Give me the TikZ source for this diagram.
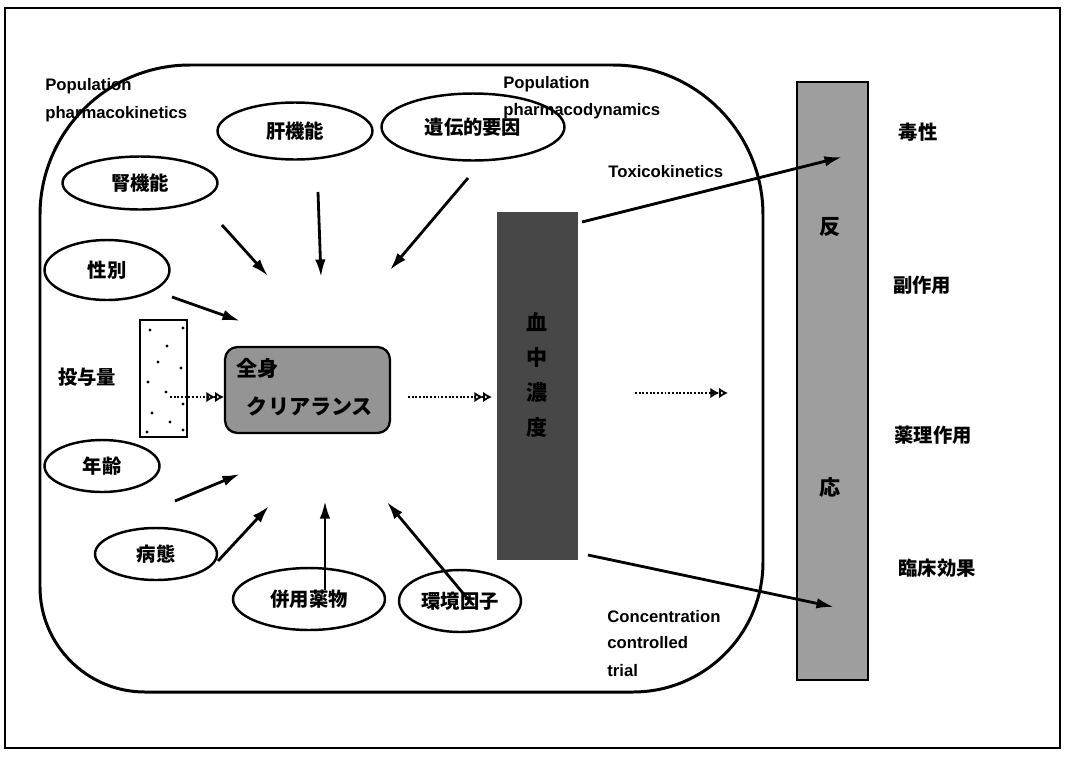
\documentclass[tikz,border=0pt]{standalone}
\usepackage{fontspec}
\setmainfont{Liberation Sans}
\newfontfamily\jp{Noto Sans CJK JP}
\usetikzlibrary{arrows.meta,shapes.geometric}
\begin{document}
\begin{tikzpicture}[x=0.02cm,y=-0.02cm,
  lbl/.style={font=\fontsize{9.5}{12}\selectfont\bfseries, anchor=base west, inner sep=0pt},
  jt/.style={font=\jp\bfseries\fontsize{11}{13}\selectfont, inner sep=0pt},
  factor/.style={draw, ellipse, line width=1.4pt, inner sep=0pt, font=\jp\bfseries\fontsize{11}{13}\selectfont},
  arr/.style={line width=1.6pt, -{Latex[length=10pt,width=6pt]}},
  darr/.style={line width=1.1pt, densely dotted, -{Latex[open,length=5pt,width=6pt]Latex[open,length=5pt,width=6pt]}},
]
\useasboundingbox (0,0) rectangle (1066,758);
% outer frame
\draw[line width=1.3pt] (5,8) rectangle (1060,748);
% population region
\draw[line width=1.7pt] (40,400) [rounded corners=3cm] -- (40,65) -- (400,65)
  [rounded corners=3cm] -- (763,65) -- (763,400)
  [rounded corners=2.6cm] -- (763,692) -- (400,692)
  [rounded corners=2.1cm] -- (40,692) -- cycle;

% texts
\node[lbl] (pk1) at (45,90) {Population};
\node[lbl] (pk2) at (45,118) {pharmacokinetics};
\node[lbl] (pd1) at (503,88) {Population};
\node[lbl] (pd2) at (503,115) {pharmacodynamics};
\node[lbl] (tk) at (608,177) {Toxicokinetics};
\node[lbl] (cc1) at (607,622) {Concentration};
\node[lbl] (cc2) at (607,648) {controlled};
\node[lbl] (cc3) at (607,676) {trial};

% factor ellipses
\node[factor, minimum width=3.1cm, minimum height=1.06cm] (ren) at (140,183) {腎機能};
\node[factor, minimum width=3.1cm, minimum height=1.14cm] (kan) at (295,131) {肝機能};
\node[factor, minimum width=3.66cm, minimum height=1.34cm] (iden) at (473,127) {遺伝的要因};
\node[factor, minimum width=2.5cm, minimum height=1.2cm] (sei) at (107,270) {性別};
\node[factor, minimum width=2.3cm, minimum height=1.04cm] (nen) at (102,466) {年齢};
\node[factor, minimum width=2.44cm, minimum height=1.04cm] (byo) at (156,554) {病態};
\node[factor, minimum width=3.04cm, minimum height=1.24cm] (hei) at (309,599) {併用薬物};
\node[factor, minimum width=2.44cm, minimum height=1.24cm] (kankyo) at (460,601) {環境因子};

% dose
\node[jt] (dose) at (87,377) {投与量};
\node[draw, line width=1.3pt, fill=white, minimum width=0.94cm, minimum height=2.34cm, inner sep=0pt] (dbox) at (163.5,378.5) {};
\foreach \p in {(150,330),(183,328),(167,346),(158,362),(181,368),(148,382),(166,392),(183,404),(152,413),(170,422),(147,432),(183,430)}
  \fill \p circle (1.6);

% clearance
\node[draw, line width=1.3pt, fill=black!42, rounded corners=0.25cm, minimum width=3.3cm, minimum height=1.72cm, inner sep=0pt] (cl) at (307.5,390) {};
\node[jt, font=\jp\bfseries\fontsize{12}{14}\selectfont, anchor=west] (cl1) at (236,368) {全身};
\node[jt, font=\jp\bfseries\fontsize{12}{14}\selectfont] (cl2) at (310,406) {クリアランス};

% blood concentration bar
\node[fill=black!72, minimum width=1.62cm, minimum height=6.96cm, inner sep=0pt] (conc) at (537.5,386) {};
\node[jt, font=\jp\bfseries\fontsize{12}{20}\selectfont, align=center, text=black] (conct) at (537,375) {血\\中\\濃\\度};

% response bar
\node[draw, line width=1.5pt, fill=black!38, minimum width=1.42cm, minimum height=11.96cm, inner sep=0pt] (resp) at (832.5,381) {};
\node[jt, font=\jp\bfseries\fontsize{12}{14}\selectfont] (r1) at (830,227) {反};
\node[jt, font=\jp\bfseries\fontsize{12}{14}\selectfont] (r2) at (830,487) {応};

% right labels
\node[jt] (tox) at (918,132) {毒性};
\node[jt] (side) at (922,285) {副作用};
\node[jt] (pharm) at (933,435) {薬理作用};
\node[jt] (clin) at (937,568) {臨床効果};

% coordinates for arrows
\coordinate (a1s) at (222,225); \coordinate (a1e) at (268,276);
\coordinate (a2s) at (318,192); \coordinate (a2e) at (321,277);
\coordinate (a3s) at (468,178); \coordinate (a3e) at (390,270);
\coordinate (a4s) at (172,297); \coordinate (a4e) at (240,321);
\coordinate (a5s) at (175,501); \coordinate (a5e) at (240,474);
\coordinate (a6s) at (218,561); \coordinate (a6e) at (269,506);
\coordinate (a7s) at (325,590); \coordinate (a7e) at (325,501);
\coordinate (a8s) at (472,604); \coordinate (a8e) at (387,502);
\coordinate (t1s) at (582,222); \coordinate (t1e) at (842,157);
\coordinate (t2s) at (588,555); \coordinate (t2e) at (834,607);
\coordinate (d1s) at (170,397); \coordinate (d1e) at (224,397);
\coordinate (d2s) at (408,397); \coordinate (d2e) at (492,397);
\coordinate (d3s) at (635,393); \coordinate (d3e) at (728,393);

\draw[arr] (a1s) -- (a1e);
\draw[arr] (a2s) -- (a2e);
\draw[arr] (a3s) -- (a3e);
\draw[arr] (a4s) -- (a4e);
\draw[arr] (a5s) -- (a5e);
\draw[arr] (a6s) -- (a6e);
\draw[arr] (a7s) -- (a7e);
\draw[arr] (a8s) -- (a8e);
\draw[arr] (t1s) -- (t1e);
\draw[arr] (t2s) -- (t2e);
\draw[darr] (d1s) -- (d1e);
\draw[darr] (d2s) -- (d2e);
\draw[darr] (d3s) -- (d3e);
\end{tikzpicture}
\end{document}
